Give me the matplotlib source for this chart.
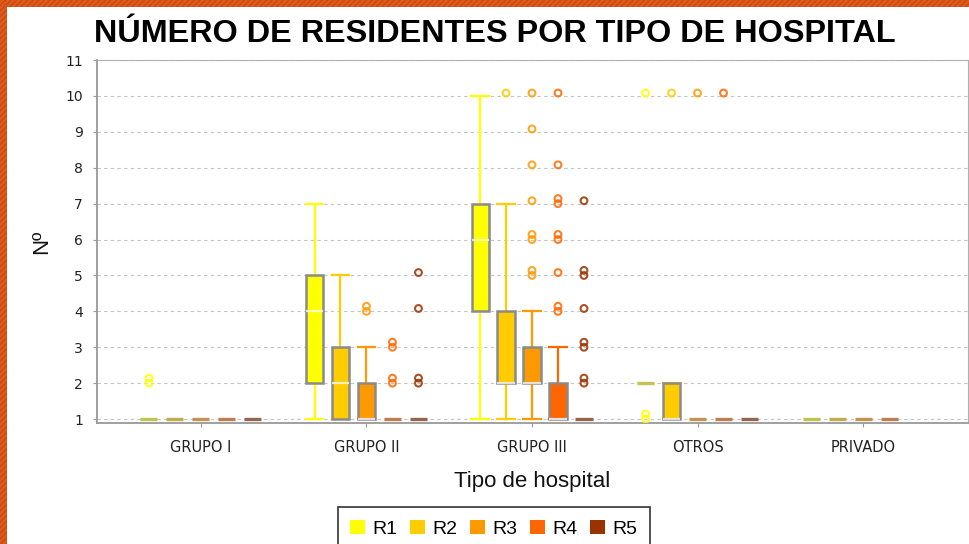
import matplotlib
matplotlib.use("Agg")
import matplotlib.pyplot as plt
from matplotlib.patches import Rectangle, Patch
from matplotlib import colors as mcolors
from collections import Counter

# ---------------- data ----------------
groups = ["GRUPO I", "GRUPO II", "GRUPO III", "OTROS", "PRIVADO"]
series = ["R1", "R2", "R3", "R4", "R5"]
series_colors = ["#FFFF00", "#FFCC00", "#FF9900", "#FF6600", "#993300"]

# per series, per group (None = no data)
r1_q1 = [1, 2, 4, 2, 1]
r1_med = [1, 4, 6, 2, 1]
r1_q3 = [1, 5, 7, 2, 1]
r1_lo = [1, 1, 1, 2, 1]
r1_hi = [1, 7, 10, 2, 1]
r1_out = [[2, 2], [], [], [1, 1, 10], []]

r2_q1 = [1, 1, 2, 1, 1]
r2_med = [1, 2, 2, 1, 1]
r2_q3 = [1, 3, 4, 2, 1]
r2_lo = [1, 1, 1, 1, 1]
r2_hi = [1, 5, 7, 2, 1]
r2_out = [[], [], [10], [10], []]

r3_q1 = [1, 1, 2, 1, 1]
r3_med = [1, 1, 2, 1, 1]
r3_q3 = [1, 2, 3, 1, 1]
r3_lo = [1, 1, 1, 1, 1]
r3_hi = [1, 3, 4, 1, 1]
r3_out = [[], [4, 4], [5, 5, 6, 6, 7, 8, 9, 10], [10], []]

r4_q1 = [1, 1, 1, 1, 1]
r4_med = [1, 1, 1, 1, 1]
r4_q3 = [1, 1, 2, 1, 1]
r4_lo = [1, 1, 1, 1, 1]
r4_hi = [1, 1, 3, 1, 1]
r4_out = [[], [2, 2, 3, 3], [4, 4, 5, 6, 6, 7, 7, 8, 10], [10], []]

r5_q1 = [1, 1, 1, 1, None]
r5_med = [1, 1, 1, 1, None]
r5_q3 = [1, 1, 1, 1, None]
r5_lo = [1, 1, 1, 1, None]
r5_hi = [1, 1, 1, 1, None]
r5_out = [[], [2, 2, 4, 5], [2, 2, 3, 3, 4, 5, 5, 7], [], []]

yticks = list(range(1, 12))
title = "NÚMERO DE RESIDENTES POR TIPO DE HOSPITAL"
xlabel = "Tipo de hospital"
ylabel = "Nº"

all_stats = [
    (r1_q1, r1_med, r1_q3, r1_lo, r1_hi, r1_out),
    (r2_q1, r2_med, r2_q3, r2_lo, r2_hi, r2_out),
    (r3_q1, r3_med, r3_q3, r3_lo, r3_hi, r3_out),
    (r4_q1, r4_med, r4_q3, r4_lo, r4_hi, r4_out),
    (r5_q1, r5_med, r5_q3, r5_lo, r5_hi, r5_out),
]

# ---------------- style ----------------
W, H = 970, 544
fig = plt.figure(figsize=(W / 100, H / 100), dpi=100)
fig.patch.set_facecolor("white")

ax = fig.add_axes([97 / W, 1 - 423 / H, (968 - 97) / W, (423 - 60) / H])
ax.set_facecolor("white")

GRAY = "#8A8A8A"
step = 0.157
bw = 0.103


def blend(c1, c2, t):
    a = mcolors.to_rgb(c1)
    b = mcolors.to_rgb(c2)
    return tuple(a[k] * (1 - t) + b[k] * t for k in range(3))


for i, (q1s, meds, q3s, los, his, outs) in enumerate(all_stats):
    col = series_colors[i]
    for j in range(len(groups)):
        if q1s[j] is None:
            continue
        pos = j + (i - 2) * step
        st = dict(med=meds[j], q1=q1s[j], q3=q3s[j], whislo=los[j], whishi=his[j], fliers=[])
        flat = q1s[j] == q3s[j]
        if flat:
            edge = blend(col, "#909090", 0.55)
            ax.bxp([st], positions=[pos], widths=bw, patch_artist=True,
                   showfliers=False, showcaps=False, manage_ticks=False,
                   boxprops=dict(facecolor=col, edgecolor=edge, linewidth=2.4, zorder=2.5),
                   whiskerprops=dict(color=col, linewidth=0, alpha=0),
                   medianprops=dict(color=edge, linewidth=0, alpha=0))
        else:
            ax.bxp([st], positions=[pos], widths=bw, patch_artist=True,
                   showfliers=False, showcaps=True, capwidths=bw * 1.05, manage_ticks=False,
                   boxprops=dict(facecolor=col, edgecolor=GRAY, linewidth=1.8, zorder=2.5),
                   whiskerprops=dict(color=col, linewidth=1.6, zorder=2),
                   capprops=dict(color=col, linewidth=1.6, zorder=2),
                   medianprops=dict(color="white", alpha=0.75, linewidth=1.6, zorder=2.6))
        # outliers
        cnt = Counter(outs[j])
        for v, n in cnt.items():
            ys = [v + 0.0, v + 0.14] if n > 1 else [v + 0.08]
            ax.scatter([pos] * len(ys), ys, s=24, facecolors="none",
                       edgecolors=col, linewidths=1.5, zorder=3, alpha=0.85)

ax.set_xlim(-0.628, 4.634)
ax.set_ylim(0.89, 11.0)
ax.set_yticks(yticks)
ax.set_xticks(range(len(groups)))
ax.set_xticklabels(groups, fontsize=10.5, color="#222222", family="DejaVu Sans")
for lab in ax.get_yticklabels():
    lab.set_fontsize(10)
    lab.set_color("#222222")
ax.tick_params(axis="both", length=3, width=0.8, color="#999999", pad=7)
ax.tick_params(axis="x", pad=9)

ax.yaxis.grid(True, color="#C4C4C4", linestyle=(0, (3, 3)), linewidth=0.8)
ax.set_axisbelow(True)
for s in ["top", "right"]:
    ax.spines[s].set_color("#B0B0B0")
    ax.spines[s].set_linewidth(0.8)
for s in ["left", "bottom"]:
    ax.spines[s].set_color("#999999")
    ax.spines[s].set_linewidth(1.3)

ax.set_xlabel(xlabel, fontsize=16, family="Liberation Sans", color="#111111")
ax.xaxis.set_label_coords(0.5, (423 - 482) / 363)
ax.xaxis.label.set_va("center")
ax.set_ylabel(ylabel, fontsize=16, family="Liberation Sans", color="#111111")
ax.yaxis.set_label_coords((42 - 97) / 871, 0.5)
ax.yaxis.label.set_va("center")

fig.text(495 / W, 1 - 42 / H, title, ha="center", va="baseline",
         fontsize=23.3, fontweight="bold", family="Liberation Sans", color="black")

handles = [Patch(facecolor=c, edgecolor="none") for c in series_colors]
leg = fig.legend(handles, series, loc="upper center", bbox_to_anchor=(494 / W, 1 - 507 / H),
                 ncol=5, frameon=True, fancybox=False,
                 prop=dict(family="Liberation Sans", size=14),
                 handlelength=0.75, handleheight=0.75, handletextpad=0.4,
                 columnspacing=0.65, borderpad=0.65, borderaxespad=0)
leg.get_frame().set_edgecolor("black")
leg.get_frame().set_linewidth(1.2)

# orange hatched border (left and top)
plt.rcParams["hatch.linewidth"] = 1.0
fig.patches.append(Rectangle((0, 0), 7 / W, 1, transform=fig.transFigure,
                             facecolor="#DF5A1C", edgecolor="#C64A12", hatch="//////",
                             linewidth=0, zorder=10))
fig.patches.append(Rectangle((0, 1 - 7 / H), 1, 7 / H, transform=fig.transFigure,
                             facecolor="#DF5A1C", edgecolor="#C64A12", hatch="//////",
                             linewidth=0, zorder=10))

fig.savefig("out.png", dpi=100)
